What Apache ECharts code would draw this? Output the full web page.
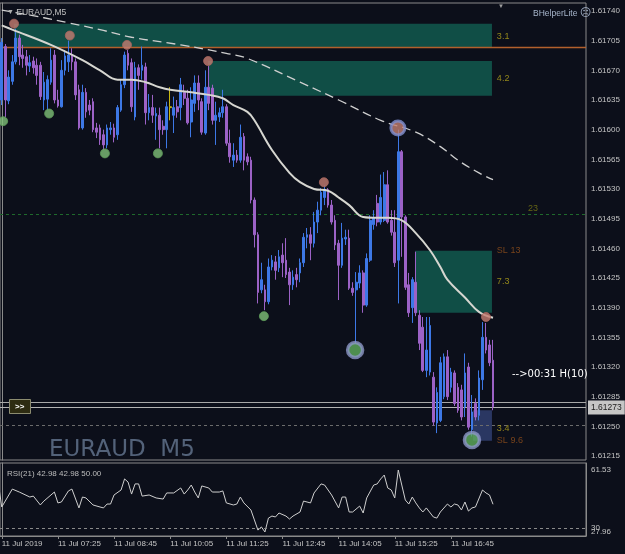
<!DOCTYPE html>
<html><head><meta charset="utf-8">
<script src="https://cdn.jsdelivr.net/npm/echarts@6/dist/echarts.min.js"></script>
<style>html,body{margin:0;padding:0;background:#0c0f1a;}#c{width:625px;height:554px;}</style>
</head><body><div id="c"></div>
<script>
// ---------------- DATA ----------------
const slotCount = 167; // bar slots across the visible price window
// [open, close, low, high] per M5 bar
const ohlc = [
[1.61635,1.61703,1.61629,1.61708],[1.61698,1.61635,1.61615,1.61701],[1.61634,1.61662,1.61630,1.61670],[1.61657,1.61680,1.61653,1.61688],
[1.61680,1.61708,1.61677,1.61719],[1.61708,1.61686,1.61676,1.61712],[1.61688,1.61684,1.61673,1.61700],[1.61686,1.61676,1.61664,1.61694],
[1.61675,1.61679,1.61668,1.61688],[1.61681,1.61673,1.61666,1.61686],[1.61676,1.61664,1.61653,1.61684],[1.61676,1.61639,1.61635,1.61680],
[1.61635,1.61656,1.61623,1.61668],[1.61636,1.61659,1.61623,1.61664],[1.61656,1.61682,1.61653,1.61696],[1.61688,1.61635,1.61631,1.61694],
[1.61635,1.61628,1.61626,1.61647],[1.61627,1.61670,1.61626,1.61682],[1.61670,1.61687,1.61664,1.61694],[1.61680,1.61688,1.61668,1.61705],
[1.61688,1.61680,1.61670,1.61696],[1.61680,1.61641,1.61635,1.61684],[1.61647,1.61602,1.61600,1.61653],[1.61602,1.61644,1.61600,1.61653],
[1.61644,1.61621,1.61614,1.61649],[1.61629,1.61623,1.61617,1.61635],[1.61633,1.61600,1.61597,1.61637],[1.61602,1.61597,1.61590,1.61608],
[1.61602,1.61588,1.61582,1.61606],[1.61594,1.61582,1.61576,1.61600],[1.61582,1.61602,1.61578,1.61606],[1.61600,1.61602,1.61594,1.61609],
[1.61602,1.61591,1.61585,1.61607],[1.61594,1.61626,1.61588,1.61629],[1.61623,1.61653,1.61621,1.61659],[1.61653,1.61688,1.61649,1.61692],
[1.61690,1.61676,1.61670,1.61694],[1.61679,1.61627,1.61621,1.61684],[1.61615,1.61673,1.61611,1.61680],[1.61673,1.61664,1.61647,1.61677],
[1.61670,1.61676,1.61659,1.61698],[1.61674,1.61620,1.61606,1.61679],[1.61620,1.61626,1.61611,1.61642],[1.61626,1.61617,1.61608,1.61641],
[1.61616,1.61619,1.61588,1.61626],[1.61617,1.61600,1.61578,1.61626],[1.61604,1.61600,1.61594,1.61611],[1.61600,1.61627,1.61578,1.61633],
[1.61626,1.61627,1.61611,1.61650],[1.61617,1.61626,1.61596,1.61639],[1.61627,1.61621,1.61614,1.61635],[1.61626,1.61653,1.61611,1.61661],
[1.61644,1.61637,1.61629,1.61653],[1.61637,1.61608,1.61606,1.61647],[1.61609,1.61635,1.61591,1.61650],[1.61631,1.61655,1.61621,1.61664],
[1.61655,1.61635,1.61623,1.61664],[1.61633,1.61597,1.61594,1.61637],[1.61596,1.61650,1.61594,1.61670],[1.61650,1.61631,1.61623,1.61675],
[1.61649,1.61611,1.61606,1.61653],[1.61611,1.61617,1.61582,1.61633],[1.61615,1.61620,1.61609,1.61626],[1.61620,1.61627,1.61614,1.61647],
[1.61627,1.61584,1.61581,1.61630],[1.61584,1.61568,1.61561,1.61600],[1.61564,1.61570,1.61556,1.61584],[1.61570,1.61564,1.61561,1.61576],
[1.61564,1.61591,1.61561,1.61606],[1.61592,1.61564,1.61552,1.61596],[1.61568,1.61562,1.61558,1.61572],[1.61564,1.61517,1.61513,1.61568],
[1.61517,1.61476,1.61461,1.61520],[1.61476,1.61408,1.61395,1.61479],[1.61411,1.61423,1.61407,1.61443],[1.61411,1.61397,1.61387,1.61417],
[1.61397,1.61438,1.61394,1.61448],[1.61438,1.61446,1.61434,1.61452],[1.61444,1.61434,1.61423,1.61451],[1.61437,1.61450,1.61432,1.61458],
[1.61452,1.61443,1.61426,1.61466],[1.61446,1.61429,1.61425,1.61472],[1.61432,1.61417,1.61393,1.61437],[1.61417,1.61426,1.61411,1.61434],
[1.61429,1.61423,1.61414,1.61437],[1.61431,1.61443,1.61420,1.61448],[1.61443,1.61473,1.61438,1.61478],[1.61473,1.61476,1.61460,1.61484],
[1.61476,1.61466,1.61446,1.61485],[1.61466,1.61491,1.61461,1.61503],[1.61491,1.61505,1.61478,1.61515],[1.61505,1.61526,1.61499,1.61531],
[1.61520,1.61529,1.61511,1.61534],[1.61529,1.61511,1.61508,1.61531],[1.61511,1.61491,1.61488,1.61517],[1.61493,1.61464,1.61458,1.61499],
[1.61466,1.61440,1.61399,1.61470],[1.61440,1.61472,1.61437,1.61490],[1.61471,1.61473,1.61464,1.61482],[1.61472,1.61413,1.61411,1.61482],
[1.61413,1.61408,1.61404,1.61420],[1.61411,1.61420,1.61348,1.61432],[1.61419,1.61431,1.61413,1.61440],[1.61431,1.61393,1.61384,1.61434],
[1.61393,1.61448,1.61391,1.61454],[1.61446,1.61493,1.61444,1.61499],[1.61488,1.61496,1.61482,1.61505],[1.61513,1.61491,1.61486,1.61523],
[1.61491,1.61520,1.61488,1.61547],[1.61493,1.61535,1.61491,1.61550],[1.61535,1.61491,1.61489,1.61552],[1.61493,1.61479,1.61475,1.61505],
[1.61479,1.61443,1.61438,1.61505],[1.61446,1.61574,1.61395,1.61600],[1.61574,1.61497,1.61450,1.61576],[1.61497,1.61414,1.61411,1.61499],
[1.61417,1.61384,1.61379,1.61431],[1.61390,1.61423,1.61372,1.61426],[1.61420,1.61384,1.61380,1.61456],[1.61381,1.61348,1.61340,1.61387],
[1.61367,1.61316,1.61314,1.61379],[1.61316,1.61340,1.61308,1.61379],[1.61314,1.61369,1.61310,1.61379],[1.61308,1.61255,1.61251,1.61314],
[1.61254,1.61290,1.61242,1.61296],[1.61257,1.61325,1.61255,1.61332],[1.61285,1.61332,1.61282,1.61336],[1.61332,1.61285,1.61281,1.61340],
[1.61296,1.61314,1.61290,1.61319],[1.61313,1.61277,1.61274,1.61316],[1.61296,1.61269,1.61266,1.61301],[1.61293,1.61261,1.61257,1.61299],
[1.61273,1.61313,1.61261,1.61336],[1.61320,1.61249,1.61246,1.61325],[1.61246,1.61267,1.61238,1.61287],[1.61277,1.61261,1.61257,1.61283],
[1.61263,1.61307,1.61257,1.61316],[1.61305,1.61355,1.61293,1.61373],[1.61355,1.61340,1.61336,1.61372],[1.61346,1.61325,1.61321,1.61352],
[1.61328,1.61273,1.61269,1.61352]
];
const highlightBars = [48];

// moving averages (bar index, price)
const maFastIdx = [0,3,14,23,28,33,37,41,45,48,54,59,63,66,70,72,77,82,85,89,93,96,99,103,107,110,114,118,122,125,127,132,136,140];
const maFastVal = [1.61723,1.61718,1.61700,1.61682,1.61670,1.61659,1.61659,1.61656,1.61650,1.61647,1.61644,1.61641,1.61637,1.61629,1.61621,1.61611,1.61576,1.61549,1.61538,1.61530,1.61528,1.61520,1.61511,1.61497,1.61496,1.61496,1.61493,1.61478,1.61458,1.61438,1.61423,1.61402,1.61385,1.61378];
const maSlowIdx = [0,12,19,28,37,51,64,70,85,96,108,118,125,130,136,140];
const maSlowVal = [1.61741,1.61732,1.61726,1.61718,1.61709,1.61700,1.61690,1.61684,1.61656,1.61635,1.61611,1.61597,1.61580,1.61564,1.61549,1.61541];

// swing markers
const highMarkIdx = [3.5,19.4,35.7,58.8,91.8,138.0];
const highMarkPrice = [1.61725,1.61711,1.61700,1.61681,1.61538,1.61379];
const lowMarkIdx = [0.4,13.5,29.4,44.5,74.7];
const lowMarkPrice = [1.61610,1.61619,1.61572,1.61572,1.61380];
const bigHighIdx = [112.9];
const bigHighPrice = [1.61602];
const bigLowIdx = [100.7,134.0];
const bigLowPrice = [1.61340,1.61234];

// zones
const zoneStart = [3.5,58.8,117.8,134.3];
const zoneEnd = [139.7,139.7,139.7,139.7];
const zoneTop = [1.61725,1.61681,1.61457,1.61269];
const zoneBottom = [1.61697,1.61640,1.61384,1.61233];
const zoneKind = ['supply','supply','supply','demand'];

// zone / level texts
const noteText = ['3.1','4.2','SL 13','7.3','3.4','SL 9.6','23'];
const noteIdx = [141.1,141.1,141.1,141.1,141.1,141.1,150.0];
const notePrice = [1.61710,1.61660,1.61457,1.61421,1.61248,1.61233,1.61507];
const noteKind = ['size','size','sl','size','size','sl','level'];

// horizontal levels
const levelPrice = [1.61697, 1.61500, 1.61251, 1.61279, 1.61273];
const levelKind = ['zoneEdge', 'target', 'entry', 'ask', 'last'];

// RSI(21)
const rsiIdx = [-1,0,3,5,8,9,11,12,15,16,17,19,20,22,23,24,26,28,29,30,31,32,34,35,36,37,38,39,40,42,44,46,47,49,51,52,53,54,55,56,57,59,60,62,63,64,66,67,68,69,71,72,73,74,75,76,77,78,79,81,82,83,85,86,87,88,89,91,92,94,96,97,98,99,100,102,103,104,106,107,108,109,110,111,112,113,114,115,116,117,118,119,120,121,123,124,125,127,128,129,130,131,132,133,134,135,137,138,139,140];
const rsiVal = [54.5,41.5,51.2,49.6,46.9,47.4,42.6,44.7,49.6,43.7,44.2,50.2,51.2,41.0,46.9,46.4,42.6,41.5,41.0,43.1,43.1,48.0,50.7,56.7,55.0,48.5,54.0,54.0,47.4,48.0,46.4,45.8,49.1,49.1,51.8,48.5,50.7,53.4,49.6,46.4,52.9,51.8,49.6,49.6,50.2,43.7,42.6,43.1,46.9,43.7,39.9,34.5,29.0,30.7,27.96,35.5,36.6,36.1,38.25,36.6,35.0,36.6,38.8,44.7,44.2,43.7,49.1,54.0,53.4,48.0,41.0,46.9,46.9,38.8,38.8,42.0,38.25,46.4,53.4,54.0,56.7,58.8,51.8,50.7,46.4,61.53,53.4,45.3,43.1,46.9,43.7,41.0,38.8,41.0,36.1,35.5,38.8,43.1,41.5,43.1,42.6,39.9,44.2,39.3,41.0,41.5,50.7,49.1,48.0,42.98];
const rsiLevel = 30;

// axis labels
const priceTicks = [1.61740,1.61705,1.61670,1.61635,1.61600,1.61565,1.61530,1.61495,1.61460,1.61425,1.61390,1.61355,1.61320,1.61285,1.61250,1.61215];
const rsiTicksUpper = [61.53,30];
const rsiTicksLower = [27.96];
const timeLabels = ['11 Jul 2019','11 Jul 07:25','11 Jul 08:45','11 Jul 10:05','11 Jul 11:25','11 Jul 12:45','11 Jul 14:05','11 Jul 15:25','11 Jul 16:45'];
const timeLabelIdx = [0,16,32,48,64,80,96,112,128];

// ---------------- STYLE ----------------
const BG = '#0c0f1a';
const BULL = '#3d78e6', BEAR = '#9c62c6';
const AXIS = '#8a8a8a', TXT = '#c4c4c4';
const FONT = 'Liberation Sans';
const zoneFill = {supply: 'rgba(17,84,74,0.92)', demand: 'rgba(48,62,112,0.85)'};
const noteColor = {size: '#b4a41c', sl: '#94501c', level: '#7c7a14'};
const levelStyle = {
  zoneEdge: {color: '#b3602c', width: 1.5, dash: null},
  target: {color: '#1f6a2c', width: 1, dash: [3, 3]},
  entry: {color: '#6c6c6c', width: 1, dash: [3, 3]},
  ask: {color: '#a8a8a8', width: 1, dash: null},
  last: {color: '#b4b4b4', width: 1, dash: null}
};

const categories = Array.from({length: slotCount}, (_, i) => String(i));
const candleData = ohlc.map((v, i) => highlightBars.includes(i)
  ? {value: v, itemStyle: {color: '#c8b810', color0: '#c8b810', borderColor: '#c8b810', borderColor0: '#c8b810'}}
  : v);
const pairs = (xs, ys) => xs.map((x, k) => [x, ys[k]]);

const rsiAxisBase = {type: 'value', gridIndex: 1, position: 'right', min: 25.80, max: 65.32, scale: true,
  axisLine: {show: true, lineStyle: {color: AXIS}}, splitLine: {show: false}, axisTick: {show: false}};

const chart = echarts.init(document.getElementById('c'), null, {renderer: 'canvas'});
chart.setOption({
  backgroundColor: BG,
  animation: false,
  textStyle: {fontFamily: FONT},
  title: [
    {text: '{t|▼} EURAUD,M5', left: 2, top: 3, textStyle: {color: '#c0c0c0', fontSize: 8.5, fontWeight: 'normal', fontFamily: FONT, rich: {t: {fontSize: 7, color: '#b0b0b0'}}}},
    {text: 'BHelperLite {f|☹}', left: 528, top: 3, textStyle: {color: '#a8b6cc', fontSize: 8.5, fontWeight: 'normal', fontFamily: FONT, rich: {f: {fontSize: 11, color: '#a8b6cc', fontFamily: 'DejaVu Sans'}}}},
    {text: '▼', left: 493, top: -2, textStyle: {color: '#a0a0a0', fontSize: 6, fontWeight: 'normal'}},
    {text: 'EURAUD  M5', left: 44, top: 434, textStyle: {color: '#536279', fontSize: 23, fontWeight: 'normal', fontFamily: 'DejaVu Sans'}},
    {text: 'RSI(21) 42.98 42.98 50.00', left: 2, top: 465, textStyle: {color: '#bcbcbc', fontSize: 8, fontWeight: 'normal', fontFamily: FONT}},
    {text: '>>', left: 9, top: 399, padding: [4, 6, 3, 6], backgroundColor: '#2e2c12', borderColor: '#8c8c70', borderWidth: 1,
     textStyle: {color: '#ffffff', fontSize: 8, fontWeight: 'bold', fontFamily: FONT}},
    {text: '-->00:31 H(10)', left: 507, top: 364, textStyle: {color: '#ffffff', fontSize: 10, fontWeight: 'normal', fontFamily: 'DejaVu Sans'}}
  ],
  grid: [
    {left: 0, right: 39, top: 3, height: 457, show: true, borderColor: AXIS, borderWidth: 1, backgroundColor: 'transparent', containLabel: false, outerBoundsMode: 'none'},
    {left: 0, right: 39, top: 463, height: 73, show: true, borderColor: AXIS, borderWidth: 1, backgroundColor: 'transparent', containLabel: false, outerBoundsMode: 'none'}
  ],
  xAxis: [
    {type: 'category', gridIndex: 0, data: categories, boundaryGap: true, show: false},
    {type: 'value', gridIndex: 0, min: -0.5, max: slotCount - 0.5, show: false},
    {type: 'value', gridIndex: 1, min: -0.5, max: slotCount - 0.5, position: 'bottom',
     axisLine: {show: true, lineStyle: {color: AXIS}},
     splitLine: {show: false},
     axisTick: {show: true, length: 3, customValues: timeLabelIdx, lineStyle: {color: AXIS}},
     axisLabel: {show: true, customValues: timeLabelIdx, align: 'left', margin: 4, color: TXT, fontSize: 8, fontFamily: FONT,
       formatter: v => timeLabels[timeLabelIdx.indexOf(Math.round(v))] || ''}}
  ],
  yAxis: [
    {type: 'value', gridIndex: 0, position: 'right', min: 1.612103, max: 1.617494, scale: true,
     axisLine: {show: true, lineStyle: {color: AXIS}}, splitLine: {show: false},
     axisTick: {show: false},
     axisLabel: {show: true, customValues: priceTicks, margin: 5, color: TXT, fontSize: 8, fontFamily: FONT, formatter: v => v.toFixed(5)}},
    Object.assign({}, rsiAxisBase, {
     axisLabel: {show: true, customValues: rsiTicksUpper, margin: 5, color: TXT, fontSize: 8, fontFamily: FONT,
       formatter: v => (Math.abs(v - 30) < 1e-6 ? '30' : v.toFixed(2))}}),
    Object.assign({}, rsiAxisBase, {
     axisLabel: {show: true, customValues: rsiTicksLower, margin: 5, color: TXT, fontSize: 8, fontFamily: FONT,
       formatter: v => v.toFixed(2)}})
  ],
  series: [
    {type: 'custom', name: 'zones', xAxisIndex: 1, yAxisIndex: 0, z: 1, clip: true,
     data: zoneStart.map((s, k) => [s, zoneEnd[k], zoneTop[k], zoneBottom[k], k]),
     encode: {x: [0, 1], y: [2, 3]},
     renderItem: (params, api) => {
       const p1 = api.coord([api.value(0), api.value(2)]);
       const p2 = api.coord([api.value(1), api.value(3)]);
       const k = api.value(4);
       return {type: 'rect', shape: {x: p1[0], y: p1[1], width: p2[0] - p1[0], height: p2[1] - p1[1]},
               style: {fill: zoneFill[zoneKind[k]]}};
     }},
    {type: 'custom', name: 'levels', xAxisIndex: 1, yAxisIndex: 0, z: 2, clip: false,
     data: levelPrice.map((p, k) => [0, p, k]),
     encode: {x: 0, y: 1},
     renderItem: (params, api) => {
       const cs = params.coordSys;
       const y = Math.round(api.coord([0, api.value(1)])[1]) + 0.5;
       const k = api.value(2);
       const st = levelStyle[levelKind[k]];
       const children = [{type: 'line', shape: {x1: cs.x, y1: y, x2: cs.x + cs.width, y2: y},
         style: {stroke: st.color, lineWidth: st.width, lineDash: st.dash}}];
       if (levelKind[k] === 'last') {
         children.push({type: 'text', x: cs.x + cs.width + 2, y: y,
           style: {text: api.value(1).toFixed(5), fill: '#1c1c1c', backgroundColor: '#c6c6c6',
                   padding: [3, 3, 2, 3], font: '8.5px "Liberation Sans"', align: 'left', verticalAlign: 'middle'}});
       }
       return {type: 'group', children: children};
     }},
    {type: 'candlestick', name: 'EURAUD', xAxisIndex: 0, yAxisIndex: 0, z: 3, barWidth: 2.2,
     data: candleData,
     itemStyle: {color: BULL, color0: BEAR, borderColor: BULL, borderColor0: BEAR, borderWidth: 1}},
    {type: 'line', name: 'MA slow', xAxisIndex: 1, yAxisIndex: 0, z: 4, smooth: 0.4, symbol: 'none',
     data: pairs(maSlowIdx, maSlowVal), lineStyle: {color: '#cfcfcf', width: 1.3, type: [9, 5]}},
    {type: 'line', name: 'MA fast', xAxisIndex: 1, yAxisIndex: 0, z: 4, smooth: 0.4, symbol: 'none',
     data: pairs(maFastIdx, maFastVal), lineStyle: {color: '#d6d6d0', width: 2}},
    {type: 'scatter', name: 'swing highs', xAxisIndex: 1, yAxisIndex: 0, z: 5, symbolSize: 9,
     data: pairs(highMarkIdx, highMarkPrice), itemStyle: {color: '#c57d72', borderColor: '#a8655e', borderWidth: 1}},
    {type: 'scatter', name: 'swing lows', xAxisIndex: 1, yAxisIndex: 0, z: 5, symbolSize: 9,
     data: pairs(lowMarkIdx, lowMarkPrice), itemStyle: {color: '#80bf78', borderColor: '#5f9c5a', borderWidth: 1}},
    {type: 'scatter', name: 'major high', xAxisIndex: 1, yAxisIndex: 0, z: 5, symbolSize: 14,
     data: pairs(bigHighIdx, bigHighPrice), itemStyle: {color: '#c27e70', borderColor: '#7f8ed0', borderWidth: 3}},
    {type: 'scatter', name: 'major lows', xAxisIndex: 1, yAxisIndex: 0, z: 5, symbolSize: 15,
     data: pairs(bigLowIdx, bigLowPrice), itemStyle: {color: '#5fae5c', borderColor: '#8d96c8', borderWidth: 3.5}},
    {type: 'scatter', name: 'notes', xAxisIndex: 1, yAxisIndex: 0, z: 6, symbolSize: 0, silent: true,
     data: noteText.map((t, k) => ({value: [noteIdx[k], notePrice[k]], name: t,
       label: {color: noteColor[noteKind[k]]}})),
     label: {show: true, position: 'right', distance: 0, formatter: p => p.name, fontSize: 9, fontFamily: FONT}},
    {type: 'line', name: 'RSI(21)', xAxisIndex: 2, yAxisIndex: 1, z: 4, symbol: 'none',
     data: pairs(rsiIdx, rsiVal), lineStyle: {color: '#cfcfcf', width: 1},
     markLine: {symbol: 'none', silent: true, label: {show: false},
       data: [{yAxis: rsiLevel}], lineStyle: {color: '#8a8a8a', width: 1, type: [3, 3]}}}
  ]
});
</script></body></html>
